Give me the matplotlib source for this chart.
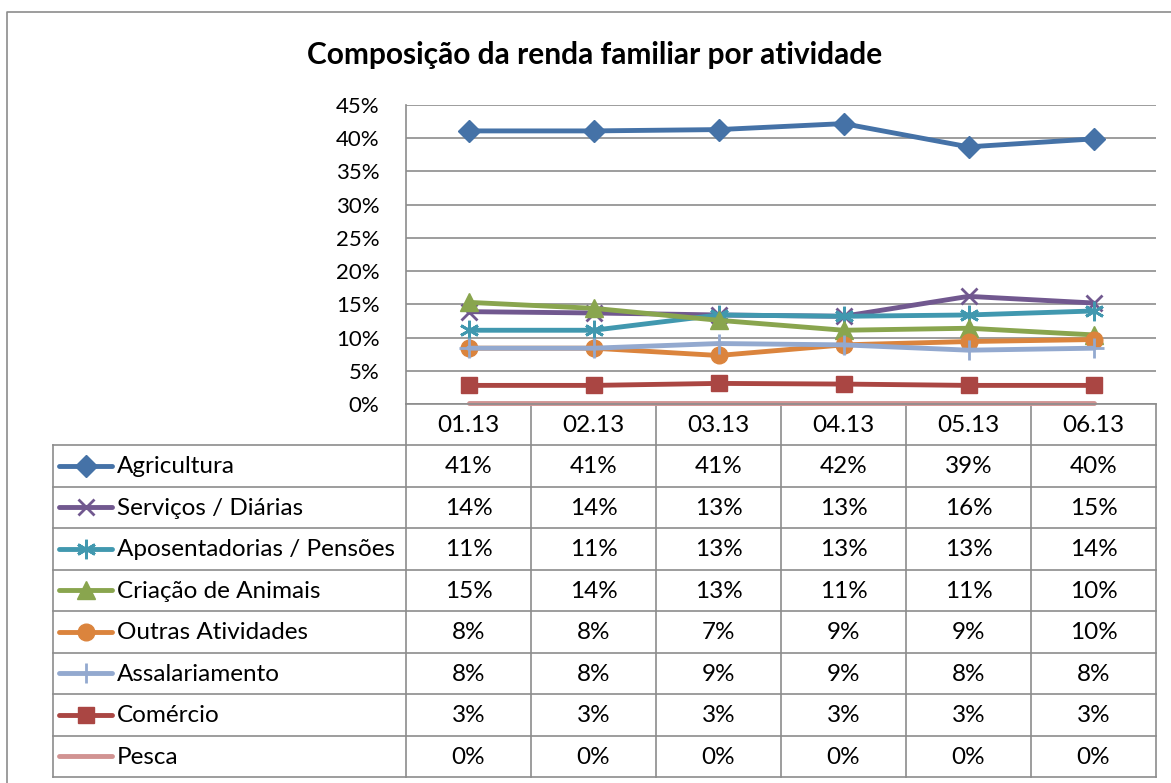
import matplotlib
matplotlib.use("Agg")
import matplotlib.pyplot as plt
from matplotlib.ticker import FuncFormatter

plt.rcParams['font.family'] = ['Lato', 'DejaVu Sans']

# Dados (% da renda)
meses = ['01.13', '02.13', '03.13', '04.13', '05.13', '06.13']
agricultura = [41.1, 41.1, 41.3, 42.2, 38.7, 39.9]
servicos = [13.9, 13.7, 13.4, 13.2, 16.2, 15.2]
aposentadorias = [11.1, 11.1, 13.4, 13.2, 13.4, 14.0]
criacao = [15.3, 14.4, 12.6, 11.1, 11.4, 10.4]
outras = [8.4, 8.4, 7.3, 8.9, 9.4, 9.7]
assalariamento = [8.4, 8.4, 9.1, 8.9, 8.1, 8.4]
comercio = [2.8, 2.8, 3.1, 3.0, 2.8, 2.8]
pesca = [0.1, 0.1, 0.1, 0.1, 0.1, 0.1]

series = [
    ('Agricultura', agricultura, '#4572A7', 'D', 11),
    ('Serviços / Diárias', servicos, '#71588F', 'x', 12),
    ('Aposentadorias / Pensões', aposentadorias, '#4198AF', (6, 2, 0), 14),
    ('Criação de Animais', criacao, '#89A54E', '^', 13),
    ('Outras Atividades', outras, '#DB843D', 'o', 12),
    ('Assalariamento', assalariamento, '#93A9CF', '+', 14),
    ('Comércio', comercio, '#AA4643', 's', 11),
    ('Pesca', pesca, '#D19392', None, 0),
]

W, H = 1171, 783
cinza = '#8C8C8C'
fs_tab = 17.5
fs_tick = 16

fig = plt.figure(figsize=(W / 100, H / 100), dpi=100)

# camada em pixels para a moldura e a tabela
tab = fig.add_axes([0, 0, 1, 1], zorder=0)
tab.set_xlim(0, W)
tab.set_ylim(H, 0)
tab.axis('off')

# moldura externa
tab.plot([7, 7, W + 5], [H + 5, 12, 12], color=cinza, lw=1.2)

# área do gráfico
x0, x1 = 406, 1156
ytop, ybot = 105, 404
ax = fig.add_axes([x0 / W, 1 - ybot / H, (x1 - x0) / W, (ybot - ytop) / H], zorder=1)
xs = list(range(len(meses)))
for nome, vals, cor, mk, ms in series:
    ax.plot(xs, vals, color=cor, lw=3.5, marker=mk, markersize=ms,
            markeredgewidth=2 if mk in ('x', '+', (6, 2, 0)) else 1,
            markeredgecolor=cor, markerfacecolor=cor, solid_capstyle='round',
            clip_on=False)
ax.set_xlim(-0.5, len(meses) - 0.5)
ax.set_ylim(0, 45)
ax.set_yticks(range(0, 46, 5))
ax.yaxis.set_major_formatter(FuncFormatter(lambda v, p: f'{v:.0f}%'))
ax.tick_params(axis='y', length=0, pad=19, labelsize=fs_tick)
ax.set_xticks([])
ax.grid(axis='y', color=cinza, lw=1.2)
ax.set_axisbelow(True)
for s in ('top', 'right'):
    ax.spines[s].set_visible(False)
for s in ('left', 'bottom'):
    ax.spines[s].set_color(cinza)
    ax.spines[s].set_linewidth(1.2)

fig.text(595 / W, 1 - 55 / H, 'Composição da renda familiar por atividade',
         ha='center', va='center', fontsize=21.5, fontweight='bold')

# tabela de dados
col_w = (x1 - x0) / len(meses)
row_h = 41.5
hdr_bot = 445
tleft = 53
n = len(series)
ybottom = hdr_bot + n * row_h

for i in range(len(meses) + 1):
    tab.plot([x0 + i * col_w] * 2, [ybot, ybottom], color=cinza, lw=1.2)
tab.plot([tleft, tleft], [hdr_bot, ybottom], color=cinza, lw=1.2)
for r in range(n + 1):
    y = hdr_bot + r * row_h
    tab.plot([tleft, x1], [y, y], color=cinza, lw=1.2)

for i, m in enumerate(meses):
    tab.text(x0 + (i + 0.5) * col_w, (ybot + hdr_bot) / 2 + 1, m,
             ha='center', va='center', fontsize=fs_tab)

for r, (nome, vals, cor, mk, ms) in enumerate(series):
    yc = hdr_bot + (r + 0.5) * row_h
    tab.plot([59, 112], [yc, yc], color=cor, lw=3.5, solid_capstyle='round')
    if mk is not None:
        tab.plot([85.5], [yc], color=cor, marker=mk, markersize=ms,
                 markeredgewidth=2 if mk in ('x', '+', (6, 2, 0)) else 1,
                 markeredgecolor=cor, markerfacecolor=cor)
    tab.text(117, yc + 1, nome, ha='left', va='center', fontsize=fs_tab)
    for i, v in enumerate(vals):
        tab.text(x0 + (i + 0.5) * col_w, yc + 1, f'{v:.0f}%',
                 ha='center', va='center', fontsize=fs_tab)

fig.savefig('out.png', dpi=100, facecolor='white')
